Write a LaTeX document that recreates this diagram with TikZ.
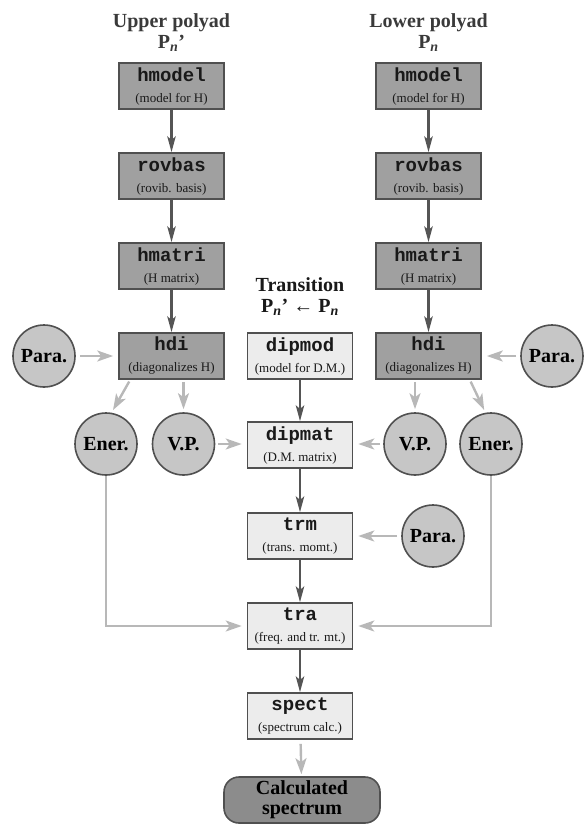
\documentclass[tikz,border=0pt]{standalone}
\usepackage{fontspec}
\setmainfont{Liberation Serif}
\setmonofont{Liberation Mono}
\usetikzlibrary{arrows.meta}

\definecolor{boxdark}{HTML}{A0A0A0}
\definecolor{boxlight}{HTML}{ECECEC}
\definecolor{circfill}{HTML}{C6C6C6}
\definecolor{edgegray}{HTML}{505050}
\definecolor{arrdark}{HTML}{555555}
\definecolor{arrlight}{HTML}{B8B8B8}
\definecolor{calcfill}{HTML}{8C8C8C}
\definecolor{titlegray}{HTML}{3A3A3A}

\newcommand{\prog}[1]{{\fontsize{19}{21}\selectfont\ttfamily\bfseries #1}}

\begin{document}
\begin{tikzpicture}[x=1pt, y=-1pt,
            progbox/.style={rectangle, draw=edgegray, line width=1.6pt, minimum width=105pt, minimum height=46pt, inner sep=0pt, align=center, font=\fontsize{13}{21}\selectfont, text=black!90},
            darkbox/.style={progbox, fill=boxdark},
            lightbox/.style={progbox, fill=boxlight},
            param/.style={circle, draw=edgegray, line width=1.6pt, fill=circfill, minimum size=62pt, inner sep=0pt, font=\fontsize{20}{22}\selectfont\bfseries},
            heading/.style={align=center, font=\fontsize{20}{21}\selectfont\bfseries, text=titlegray},
            arrow/.style={-{Stealth[length=16pt,width=8.5pt,inset=4pt]}, line width=2.4pt, arrdark},
            garrow/.style={-{Stealth[length=16pt,width=11pt,inset=4pt]}, line width=2.4pt, arrlight, shorten <=4pt, shorten >=5pt}
        ]
            \useasboundingbox (0,0) rectangle (584,827);

            % Headings
            \node[heading] (upper) at (171.5,33) {Upper polyad\\P\textsubscript{\textit{n}}'};
            \node[heading] (lower) at (428.5,33) {Lower polyad\\P\textsubscript{\textit{n}}};
            \node[heading, text=black!90] (trans) at (300,297) {Transition\\P\textsubscript{\textit{n}}' ← P\textsubscript{\textit{n}}};

            % Upper polyad column
            \node[darkbox] (hmodelL) at (171.5,86) {\prog{hmodel}\\(model for H)};
            \node[darkbox] (rovbasL) at (171.5,176) {\prog{rovbas}\\(rovib. basis)};
            \node[darkbox] (hmatriL) at (171.5,266) {\prog{hmatri}\\(H matrix)};
            \node[darkbox] (hdiL) at (171.5,356) {\prog{hdi}\\(diagonalizes H)};
            \node[param] (paraL) at (44,356) {Para.};
            \node[param] (enerL) at (106,444) {Ener.};
            \node[param] (vpL) at (183.5,444) {V.P.};

            % Lower polyad column
            \node[darkbox] (hmodelR) at (428.5,86) {\prog{hmodel}\\(model for H)};
            \node[darkbox] (rovbasR) at (428.5,176) {\prog{rovbas}\\(rovib. basis)};
            \node[darkbox] (hmatriR) at (428.5,266) {\prog{hmatri}\\(H matrix)};
            \node[darkbox] (hdiR) at (428.5,356) {\prog{hdi}\\(diagonalizes H)};
            \node[param] (paraR) at (552,356) {Para.};
            \node[param] (enerR) at (491,444) {Ener.};
            \node[param] (vpR) at (415,444) {V.P.};

            % Transition column
            \node[lightbox] (dipmod) at (300,356) {\prog{dipmod}\\(model for D.M.)};
            \node[lightbox] (dipmat) at (300,445) {\prog{dipmat}\\(D.M. matrix)};
            \node[lightbox] (trm) at (300,536) {\prog{trm}\\(trans. momt.)};
            \node[param] (paraT) at (433,536) {Para.};
            \node[lightbox] (tra) at (300,626) {\prog{tra}\\(freq. and tr. mt.)};
            \node[lightbox] (spect) at (300,716) {\prog{spect}\\(spectrum calc.)};
            \node[rectangle, rounded corners=15pt, draw=edgegray, line width=1.6pt, fill=calcfill, minimum width=156pt, minimum height=46pt, align=center, font=\fontsize{20}{20}\selectfont\bfseries] (calc) at (302,800) {Calculated\\spectrum};

            \draw[arrow] (hmodelL) -- (rovbasL);
            \draw[arrow] (rovbasL) -- (hmatriL);
            \draw[arrow] (hmatriL) -- (hdiL);
            \draw[arrow] (hmodelR) -- (rovbasR);
            \draw[arrow] (rovbasR) -- (hmatriR);
            \draw[arrow] (hmatriR) -- (hdiR);
            \draw[arrow] (dipmod) -- (dipmat);
            \draw[arrow] (dipmat) -- (trm);
            \draw[arrow] (trm) -- (tra);
            \draw[arrow] (tra) -- (spect);

            % Parameters and results
            \draw[garrow] (paraL) -- (hdiL);
            \draw[garrow] (paraR) -- (hdiR);
            \draw[garrow, shorten <=2pt, shorten >=3pt] ([xshift=12pt]hdiL.south west) -- (enerL.80);
            \draw[garrow, shorten <=2pt, shorten >=3pt] ([xshift=-12pt]hdiR.south east) -- (enerR.100);
            \draw[garrow, shorten <=2pt, shorten >=3pt] (hdiL.south -| vpL) -- (vpL);
            \draw[garrow, shorten <=2pt, shorten >=3pt] (hdiR.south -| vpR) -- (vpR);
            \draw[garrow, shorten <=3pt] (vpL) -- (vpL -| dipmat.west);
            \draw[garrow, shorten <=3pt] (vpR) -- (vpR -| dipmat.east);
            \draw[garrow] (paraT) -- (trm);
            \draw[garrow, shorten <=0pt] (enerL) |- (tra);
            \draw[garrow, shorten <=0pt] (enerR) |- (tra);
            \draw[garrow, shorten >=2pt] (spect) -- (calc);
        \end{tikzpicture}
\end{document}
